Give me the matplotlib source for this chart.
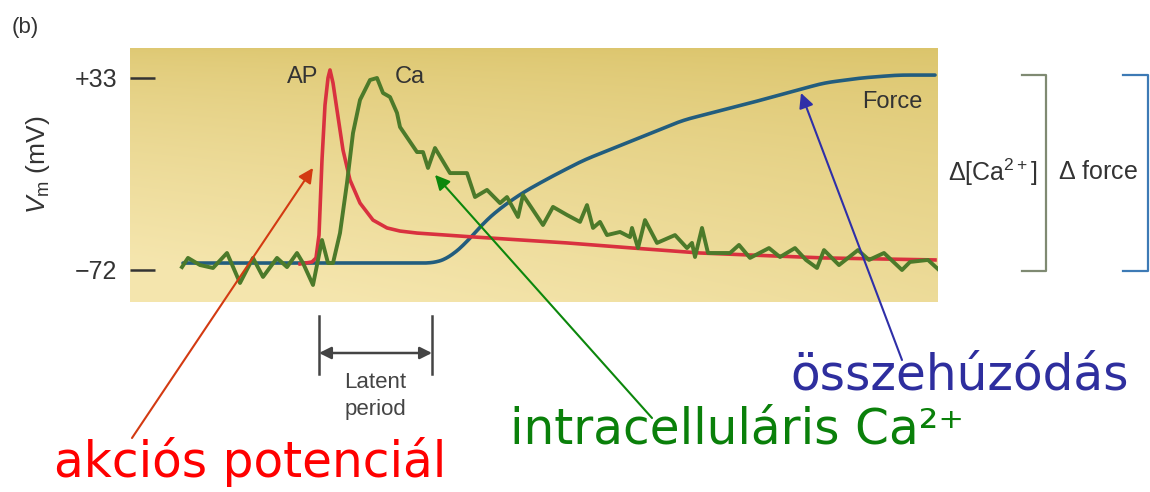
import numpy as np
import matplotlib
matplotlib.use('Agg')
import matplotlib.pyplot as plt
from matplotlib.transforms import blended_transform_factory

plt.rcParams['font.family'] = ['Liberation Sans', 'DejaVu Sans']
plt.rcParams['mathtext.fontset'] = 'custom'
plt.rcParams['mathtext.rm'] = 'Liberation Sans'
plt.rcParams['mathtext.it'] = 'Liberation Sans:italic'

# Data (time in arbitrary units, values in mV)
ap_t = [170, 182, 186, 189, 192, 195, 198, 200, 203, 207, 213, 220, 230, 243,
        257, 270, 287, 337, 437, 503, 570, 620, 694, 805]
ap_v = [-68.7, -67.6, -65.4, -52.9, -11.8, 18.2, 33.0, 37.4, 30.3, 15.5, -6.4,
        -22.8, -35.4, -44.7, -49.0, -50.7, -51.8, -53.7, -57.2, -60.0, -62.7,
        -63.8, -65.4, -66.5]

force_t = [53, 170, 290, 303, 311, 320, 337, 353, 370, 393, 420, 453, 503, 553,
           620, 657, 694, 731, 768, 805]
force_v = [-68.2, -68.2, -68.2, -68.2, -67.1, -64.9, -56.7, -46.5, -38.3, -29.6,
           -21.4, -12.1, -1.1, 9.9, 19.3, 24.8, 30.3, 33.0, 34.6, 34.6]

ca_t = [52, 58, 70, 83, 97, 110, 123, 133, 147, 157, 167, 173, 183, 192, 198,
        203, 210, 217, 223, 230, 240, 247, 253, 260, 267, 270, 287, 293, 298,
        305, 320, 337, 345, 357, 370, 377, 388, 393, 413, 423, 437, 450, 457,
        463, 470, 477, 490, 500, 502, 508, 515, 527, 545, 557, 562, 565, 572,
        578, 600, 609, 620, 639, 650, 665, 676, 687, 694, 709, 728, 739, 754,
        772, 780, 798, 809]
ca_v = [-70.4, -65.4, -69.3, -70.9, -62.7, -79.1, -65.4, -75.8, -65.4, -70.4,
        -62.7, -68.2, -80.2, -55.6, -68.2, -68.2, -51.8, -24.4, 2.9, 21.0, 31.9,
        33.0, 24.8, 22.6, 13.9, 6.2, -7.5, -7.5, -16.2, -5.3, -19.0, -19.0,
        -32.1, -28.2, -35.4, -32.1, -43.0, -31.0, -47.4, -37.5, -41.9, -45.7,
        -36.5, -49.0, -45.7, -52.9, -51.2, -54.0, -49.0, -60.0, -44.7, -57.2,
        -52.9, -60.0, -57.2, -64.9, -49.0, -62.7, -62.7, -58.3, -65.4, -60.0,
        -64.9, -60.0, -66.5, -70.9, -61.1, -69.3, -61.1, -66.5, -62.7, -72.0,
        -67.6, -66.5, -72.0]

y_ticks = [33, -72]
y_tick_labels = ['+33', '\u221272']
latent_start, latent_end = 189, 302


def smooth(t, v, win=21):
    # dense resample + moving average so the traced curve is not kinky
    tt = np.arange(t[0], t[-1] + 1)
    vv = np.interp(tt, t, v)
    pad = win // 2
    vp = np.concatenate([np.full(pad, vv[0]), vv, np.full(pad, vv[-1])])
    return tt, np.convolve(vp, np.ones(win) / win, mode='valid')


fig = plt.figure(figsize=(11.5, 4.92), dpi=100)
ax = fig.add_axes([130 / 1150, 190 / 492, 808 / 1150, 254 / 492])
ax.set_xlim(0, 808)
ax.set_ylim(-89.5, 49.4)

# yellow gradient background
gy = np.linspace(0, 1, 200)[:, None]
gx = np.linspace(0, 1, 200)[None, :]
top = np.array([0.86, 0.77, 0.42])
bot = np.array([0.96, 0.90, 0.68])
mix = (gy ** 0.7) * (1 - 0.3 * gx) + 0.12 * (1 - gx)
mix = np.clip(mix, 0, 1)[..., None]
img = top * (1 - mix) + bot * mix
ax.imshow(img, extent=[0, 808, -89.5, 49.4], aspect='auto', origin='upper', zorder=0)

ft, fv = smooth(force_t, force_v)
ax.plot(ft, fv, color='#225d7e', lw=2.6, zorder=2, solid_capstyle='round')
ax.plot(ap_t, ap_v, color='#d9313f', lw=2.6, zorder=3, solid_joinstyle='round')
ax.plot(ca_t, ca_v, color='#4c7a2a', lw=2.8, zorder=4, solid_joinstyle='round')

for s in ax.spines.values():
    s.set_visible(False)
ax.set_xticks([])
ax.set_yticks(y_ticks)
ax.set_yticklabels(y_tick_labels)
ax.tick_params(axis='y', direction='in', length=18, width=1.8, color='#333333',
               labelsize=18, labelcolor='#333333', pad=9)
ax.set_ylabel(r'$V_\mathrm{m}$ (mV)', fontsize=19, color='#333333')
ax.yaxis.set_label_coords(-0.097, 0.54)

ax.text(188, 33.6, 'AP', ha='right', va='center', fontsize=17, color='#333333')
ax.text(265, 33.6, 'Ca', ha='left', va='center', fontsize=17, color='#333333')
ax.text(762, 19.9, 'Force', ha='center', va='center', fontsize=17, color='#333333')

# overlay in figure pixels
ov = fig.add_axes([0, 0, 1, 1])
ov.set_xlim(0, 1150)
ov.set_ylim(492, 0)
ov.axis('off')
ov.patch.set_alpha(0)

ov.text(12, 28, '(b)', ha='left', va='center', fontsize=16, color='#333333')

# brackets
ov.plot([1022, 1046, 1046, 1022], [75, 75, 271, 271], color='#7f8a72', lw=1.6)
ov.plot([1123, 1148, 1148, 1123], [75, 75, 271, 271], color='#3d7ab5', lw=1.6)
ov.text(993, 172, r'$\Delta$[Ca$^{2+}$]', ha='center', va='center', fontsize=18, color='#333333')
ov.text(1098, 172, r'$\Delta$ force', ha='center', va='center', fontsize=18, color='#333333')

# latent period marker
bt = blended_transform_factory(ax.transData, ov.transData)
for xv in (latent_start, latent_end):
    ov.plot([xv, xv], [316, 374], color='#444444', lw=1.8, transform=bt)
ov.annotate('', xy=(latent_end, 353), xytext=(latent_start, 353), xycoords=bt, textcoords=bt,
            arrowprops=dict(arrowstyle='<|-|>', color='#444444', lw=1.8, mutation_scale=18,
                            shrinkA=0, shrinkB=0))
ov.text((latent_start + latent_end) / 2, 383, 'Latent', transform=bt, ha='center', va='center',
        fontsize=16, color='#444444')
ov.text((latent_start + latent_end) / 2, 410, 'period', transform=bt, ha='center', va='center',
        fontsize=16, color='#444444')

# big labels with arrows
bigfont = ['DejaVu Sans']
ov.annotate('', xy=(183, -16.2), xycoords=ax.transData, xytext=(132, 438), textcoords='data',
            arrowprops=dict(arrowstyle='-|>', color='#d33a12', lw=1.5, mutation_scale=22,
                            shrinkA=0, shrinkB=0))
ov.annotate('', xy=(305, -20.0), xycoords=ax.transData, xytext=(652, 418), textcoords='data',
            arrowprops=dict(arrowstyle='-|>', color='#0c870c', lw=1.5, mutation_scale=22,
                            shrinkA=0, shrinkB=0))
ov.annotate('', xy=(671, 24.8), xycoords=ax.transData, xytext=(902, 360), textcoords='data',
            arrowprops=dict(arrowstyle='-|>', color='#2f2fa8', lw=1.5, mutation_scale=22,
                            shrinkA=0, shrinkB=0))

ov.text(250, 462, 'akciós potenciál', ha='center', va='center', fontsize=35,
        color='#ff0000', family=bigfont)
ov.text(737, 430, 'intracelluláris Ca²⁺', ha='center', va='center', fontsize=35,
        color='#0a800a', family=bigfont)
ov.text(960, 375, 'összehúzódás', ha='center', va='center', fontsize=35,
        color='#2e2e9e', family=bigfont)

fig.savefig('out.png', dpi=100, facecolor='white')
